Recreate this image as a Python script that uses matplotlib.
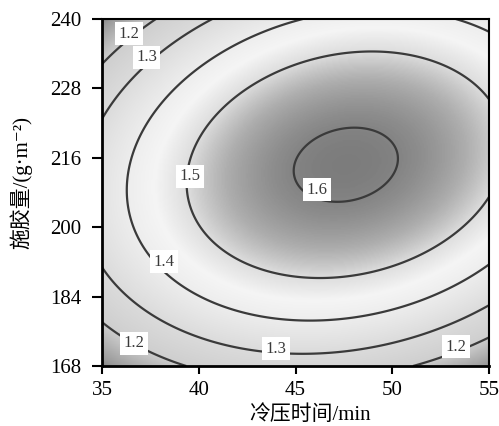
import numpy as np
import matplotlib
matplotlib.use('Agg')
import matplotlib.pyplot as plt
from matplotlib.colors import LinearSegmentedColormap

plt.rcParams['font.family'] = ['Liberation Serif', 'Noto Sans CJK SC', 'DejaVu Serif']

# response surface (coded units, centre of design = 0)
x_range = [35, 55]          # cold pressing time / min
y_range = [168, 248]        # glue spread axis (evenly spaced ticks)
x_ticks = [35, 40, 45, 50, 55]
y_ticks = [168, 184, 200, 216, 232, 248]
y_ticklabels = ['168', '184', '200', '216', '228', '240']
levels = [1.2, 1.3, 1.4, 1.5, 1.6]

z_max = 1.612
u_peak, v_peak = 0.26, 0.16
a_uu, a_uv, a_vv = 0.17, -0.035, 0.27

# where the contour labels sit
label_pos = [(36.4, 244.6), (37.3, 239.2), (39.55, 211.8), (46.1, 208.6),
             (38.2, 192.0), (36.65, 173.3), (44.0, 172.0), (53.3, 172.4)]

# grey shading: low -> grey, ~1.45 -> white, top -> dark grey
shade_z = [1.05, 1.1, 1.2, 1.3, 1.4, 1.45, 1.5, 1.55, 1.6, 1.62]
shade_g = [0.42, 0.60, 0.81, 0.86, 0.93, 0.96, 0.87, 0.68, 0.52, 0.47]

x = np.linspace(x_range[0], x_range[1], 300)
y = np.linspace(y_range[0], y_range[1], 300)
X, Y = np.meshgrid(x, y)
du = (X - 45) / 10 - u_peak
dv = (Y - 208) / 40 - v_peak
Z = z_max - (a_uu * du**2 + 2 * a_uv * du * dv + a_vv * dv**2)

zmin, zmax = shade_z[0], shade_z[-1]
cmap = LinearSegmentedColormap.from_list(
    'grey', [((z - zmin) / (zmax - zmin), (g, g, g)) for z, g in zip(shade_z, shade_g)])

fig = plt.figure(figsize=(4.99, 4.26), dpi=100)
ax = fig.add_axes([0.2044, 0.1408, 0.7756, 0.8146])

ax.imshow(Z, origin='lower', extent=[x_range[0], x_range[1], y_range[0], y_range[1]],
          aspect='auto', cmap=cmap, vmin=zmin, vmax=zmax, interpolation='bilinear')
cs = ax.contour(X, Y, Z, levels=levels, colors='#3a3a3a', linewidths=1.6)
texts = ax.clabel(cs, fmt='%.1f', inline=False, manual=label_pos, fontsize=12)
for t, pos in zip(texts, label_pos):
    t.set_position(pos)
    t.set_rotation(0)
    t.set_bbox(dict(facecolor='white', edgecolor='none', pad=2.5))
    t.set_zorder(5)

ax.set_xlim(x_range)
ax.set_ylim(y_range)
ax.set_xticks(x_ticks)
ax.set_yticks(y_ticks)
ax.set_yticklabels(y_ticklabels)
ax.tick_params(axis='y', direction='out', length=7, width=1.5, labelsize=15, pad=8)
ax.tick_params(axis='x', direction='out', length=6, width=1.5, labelsize=15, pad=5)
for side in ['left', 'bottom']:
    ax.spines[side].set_linewidth(2)
for side in ['top', 'right']:
    ax.spines[side].set_linewidth(1.5)

ax.set_xlabel('冷压时间/min', fontsize=15)
ax.set_ylabel('施胶量/(g·m⁻²)', fontsize=15)
ax.xaxis.set_label_coords(0.537, -0.112)
ax.yaxis.set_label_coords(-0.18, 0.53)

fig.savefig('out.png', dpi=100)
